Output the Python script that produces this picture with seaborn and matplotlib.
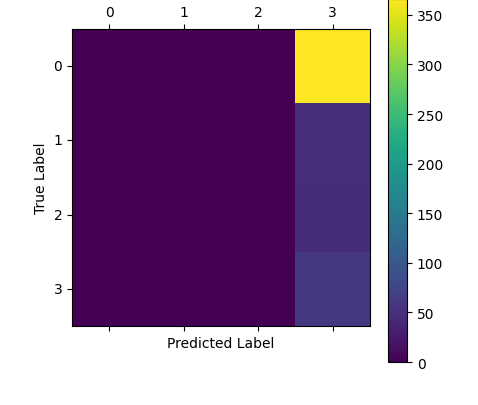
import numpy as np
import pandas as pd
import matplotlib
matplotlib.use("Agg")
import matplotlib.pyplot as plt
import seaborn as sns

# confusion matrix values (everything predicted as class 3)
labels = [0, 1, 2, 3]
col_0 = [0, 0, 0, 0]
col_1 = [0, 0, 0, 0]
col_2 = [0, 0, 0, 0]
col_3 = [366, 50, 45, 60]

cm = pd.DataFrame({0: col_0, 1: col_1, 2: col_2, 3: col_3}, index=labels)

fig = plt.figure(figsize=(4.78, 4.06), dpi=100)
ax = fig.add_axes([0.1506, 0.1946, 0.6234, 0.7315])
cax = fig.add_axes([0.8117, 0.1059, 0.0397, 0.894])

sns.heatmap(cm, ax=ax, cbar_ax=cax, cmap="viridis", vmin=0, vmax=366,
            linewidths=0, square=False)

# matshow look: ticks on top with labels, bare ticks at the bottom
ax.tick_params(axis="x", top=True, labeltop=True, bottom=True, labelbottom=False,
               length=3.5, width=0.8, labelsize=10)
ax.tick_params(axis="y", left=True, length=3.5, width=0.8, labelsize=10)
ax.set_yticklabels(labels, rotation=0)
ax.set_xticklabels(labels, rotation=0)
for s in ax.spines.values():
    s.set_visible(True)
    s.set_linewidth(0.8)
    s.set_color("black")
ax.set_xlabel("Predicted Label", fontsize=10)
ax.set_ylabel("True Label", fontsize=10)

cax.set_yticks([0, 50, 100, 150, 200, 250, 300, 350])
cax.tick_params(length=3.5, width=0.8, labelsize=10)
cb = ax.collections[0].colorbar
cb.outline.set_visible(True)
cb.outline.set_linewidth(0.8)
cb.outline.set_edgecolor("black")

fig.savefig("out.png", dpi=100)
